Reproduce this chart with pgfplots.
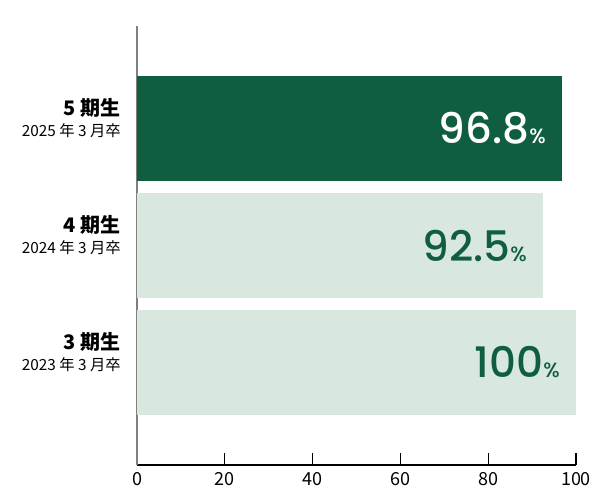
\documentclass[border=0pt]{standalone}
\usepackage{fontspec}
\usepackage{pgfplots}
\pgfplotsset{compat=1.18}
\setmainfont{Noto Sans CJK JP}
\newfontfamily\numfont{Poppins Medium}
\definecolor{dkgreen}{HTML}{105E40}
\definecolor{ltgreen}{HTML}{D8E8DE}
\newcommand{\valfmt}[1]{{\numfont\fontsize{31.5}{33}\selectfont #1}{\numfont\fontsize{15.5}{17}\selectfont\%}}
\begin{document}
\begin{tikzpicture}[x=1pt,y=1pt]
\path[use as bounding box] (-102.75,-26.25) rectangle (347.25,348.75);
\begin{axis}[
    at={(0,0)}, anchor=south west,
    scale only axis,
    width=329.25pt, height=329.25pt,
    xmin=0, xmax=100,
    ymin=-0.876, ymax=2.876,
    xbar, bar shift=0pt, bar width=0.897,
    axis x line*=bottom, axis y line*=left,
    x axis line style={black, line width=0.8pt},
    y axis line style={gray, line width=0.9pt},
    xtick={0,20,40,60,80,100},
    xtick align=inside,
    major tick length=9pt,
    x tick style={black, line width=0.8pt},
    xticklabel style={font=\fontsize{13.5}{16}\selectfont, inner sep=0pt, yshift=-5pt},
    /pgf/number format/assume math mode=true,
    ytick={0,1,2},
    y tick style={draw=none},
    yticklabels={
        {\bfseries 3 期生\\{\fontsize{11.5}{13}\selectfont 2023 年 3 月卒}},
        {\bfseries 4 期生\\{\fontsize{11.5}{13}\selectfont 2024 年 3 月卒}},
        {\bfseries 5 期生\\{\fontsize{11.5}{13}\selectfont 2025 年 3 月卒}}},
    yticklabel style={align=right, font=\fontsize{15}{16}\selectfont, inner sep=0pt, xshift=-3pt, yshift=8pt},
    point meta=explicit symbolic,
    nodes near coords={\valfmt{\pgfplotspointmeta}},
    every node near coord/.append style={anchor=east, inner sep=0pt, xshift=-12pt},
]
\addplot[fill=ltgreen, draw=none, every node near coord/.append style={text=dkgreen}]
    coordinates {(100,0) [100]};
\addplot[fill=ltgreen, draw=none, every node near coord/.append style={text=dkgreen}]
    coordinates {(92.5,1) [92.5]};
\addplot[fill=dkgreen, draw=none, every node near coord/.append style={text=white}]
    coordinates {(96.8,2) [96.8]};
\end{axis}
\end{tikzpicture}
\end{document}
